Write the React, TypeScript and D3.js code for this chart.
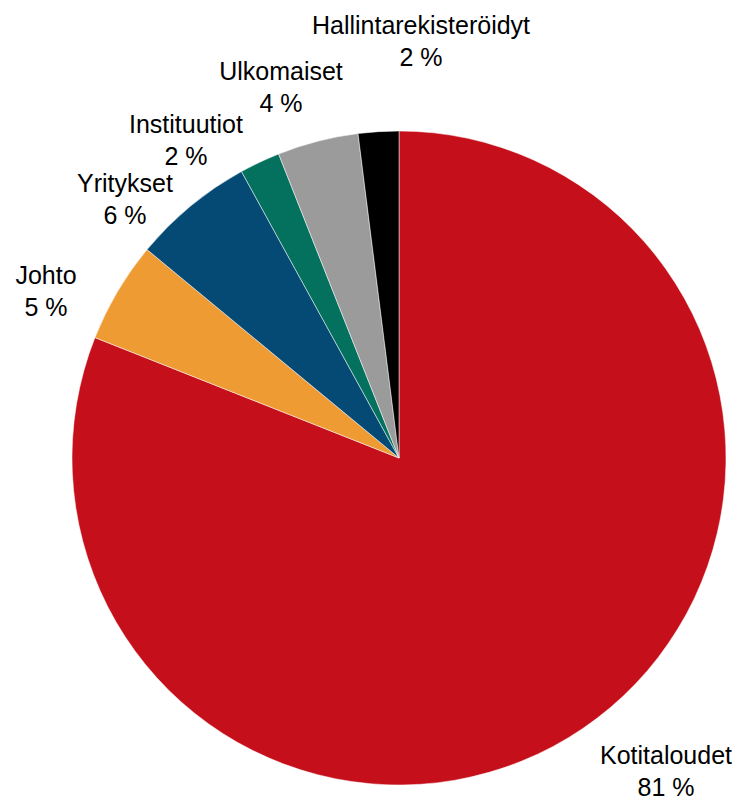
import * as d3 from "d3";

const categories = ["Kotitaloudet", "Johto", "Yritykset", "Instituutiot", "Ulkomaiset", "Hallintarekisteröidyt"];
const values = [81, 5, 6, 2, 4, 2];
const colors = ["#c50f1a", "#ef9b34", "#044a75", "#04715e", "#9b9b9b", "#000000"];
// label centres (first line), px
const labelPos = [[666, 757], [46, 277], [125, 185], [186, 126], [281, 73], [421, 27]];

export default function App() {
  const cx = 399, cy = 458, r = 327;
  const pie = d3.pie<number>().sort(null).value(d => d)(values);
  const arc = d3.arc<d3.PieArcDatum<number>>().innerRadius(0).outerRadius(r);
  return (
    <svg width={724} height={793} style={{ display: "block", fontFamily: "Liberation Sans, Arial, sans-serif" }}>
      <g transform={`translate(${cx - 8},${cy - 8})`}>
        {pie.map((p, i) => (
          <path key={i} d={arc(p) || ""} fill={colors[i]} stroke="#fff" strokeWidth={0.5} />
        ))}
      </g>
      {categories.map((c, i) => (
        <text key={c} x={labelPos[i][0] - 8} y={labelPos[i][1] - 8} textAnchor="middle" dominantBaseline="middle" fontSize={25} fill="#000">
          <tspan x={labelPos[i][0] - 8}>{c}</tspan>
          <tspan x={labelPos[i][0] - 8} dy={32}>{values[i]} %</tspan>
        </text>
      ))}
    </svg>
  );
}
